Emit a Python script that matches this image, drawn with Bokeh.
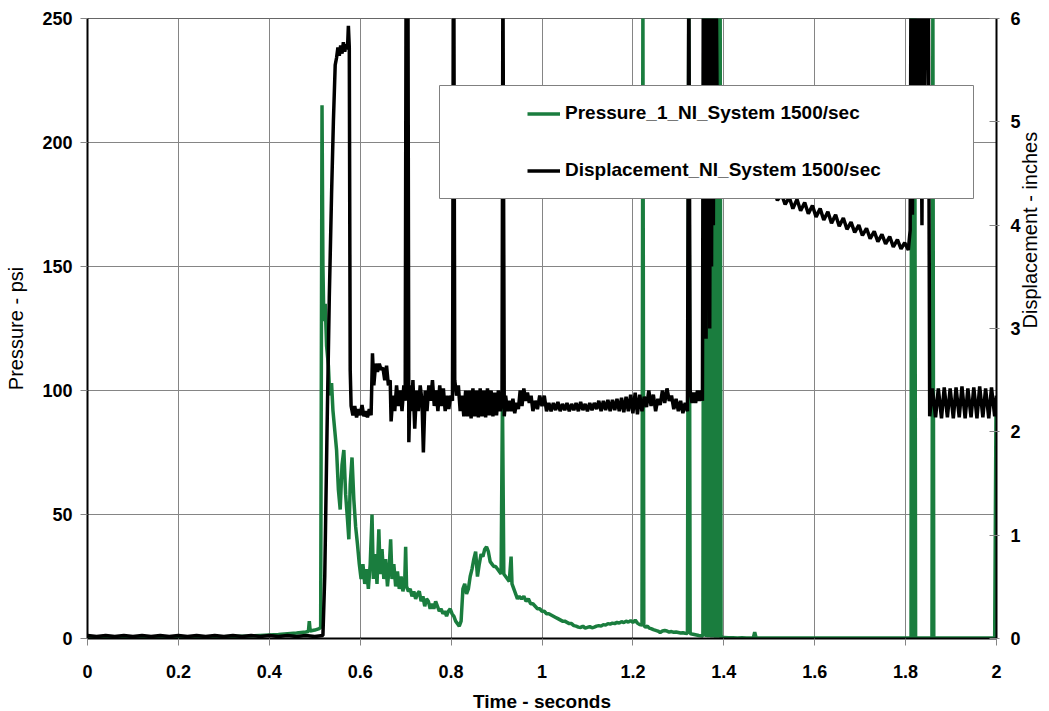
import math
from bokeh.plotting import figure
from bokeh.models import (Range1d, LinearAxis, FixedTicker, CustomJSTickFormatter,
                          Legend, LegendItem, BoxAnnotation)
from bokeh.embed import file_html
from bokeh.resources import INLINE

# ---------------- data ----------------
x_ticks = [0, 0.2, 0.4, 0.6, 0.8, 1.0, 1.2, 1.4, 1.6, 1.8, 2.0]
psi_ticks = [0, 50, 100, 150, 200, 250]
inch_ticks = [0, 1, 2, 3, 4, 5, 6]

pressure_label = "Pressure_1_NI_System 1500/sec"
disp_label = "Displacement_NI_System 1500/sec"

pressure_time = [
    0.00, 0.02, 0.04, 0.06, 0.08, 0.10, 0.12, 0.14, 0.16, 0.18,
    0.20, 0.22, 0.24, 0.26, 0.28, 0.30, 0.32, 0.34, 0.36, 0.38,
    0.40, 0.42, 0.44, 0.46, 0.48, 0.486, 0.488, 0.490, 0.500, 0.510,
    0.513, 0.516, 0.518, 0.520, 0.523, 0.526, 0.530, 0.533, 0.537, 0.540,
    0.544, 0.548, 0.552, 0.556, 0.560, 0.564, 0.568, 0.572, 0.575, 0.578,
    0.582, 0.586, 0.590, 0.594, 0.598, 0.602, 0.606, 0.610, 0.614, 0.618,
    0.622, 0.626, 0.629, 0.633, 0.637, 0.641, 0.644, 0.648, 0.652, 0.656,
    0.660, 0.664, 0.667, 0.670, 0.674, 0.678, 0.682, 0.686, 0.690, 0.694,
    0.698, 0.700, 0.702, 0.706, 0.710, 0.714, 0.718, 0.722, 0.726, 0.730,
    0.734, 0.738, 0.742, 0.746, 0.750, 0.754, 0.758, 0.762, 0.766, 0.770,
    0.774, 0.778, 0.782, 0.786, 0.790, 0.794, 0.798, 0.802, 0.806, 0.810,
    0.814, 0.818, 0.822, 0.826, 0.830, 0.834, 0.838, 0.842, 0.846, 0.850,
    0.854, 0.858, 0.862, 0.866, 0.870, 0.874, 0.878, 0.882, 0.886, 0.890,
    0.894, 0.898, 0.902, 0.906, 0.910, 0.913, 0.916, 0.920, 0.924, 0.928,
    0.932, 0.934, 0.938, 0.942, 0.946, 0.950, 0.955, 0.960, 0.965, 0.970,
    0.975, 0.980, 0.985, 0.990, 0.995, 1.000, 1.005, 1.010, 1.015, 1.020,
    1.025, 1.030, 1.035, 1.040, 1.045, 1.050, 1.055, 1.060, 1.065, 1.070,
    1.075, 1.080, 1.085, 1.090, 1.095, 1.100, 1.105, 1.110, 1.115, 1.120,
    1.125, 1.130, 1.135, 1.140, 1.145, 1.150, 1.155, 1.160, 1.165, 1.170,
    1.175, 1.180, 1.185, 1.190, 1.195, 1.200, 1.205, 1.210, 1.215, 1.220,
    1.222, 1.224, 1.228, 1.232, 1.236, 1.240, 1.245, 1.250, 1.255, 1.260,
    1.265, 1.270, 1.275, 1.280, 1.285, 1.290, 1.295, 1.300, 1.305, 1.310,
    1.315, 1.320, 1.323, 1.326, 1.330, 1.335, 1.340, 1.345, 1.350, 1.354,
    1.356, 1.358, 1.360, 1.362, 1.364, 1.366, 1.368, 1.370, 1.372, 1.374,
    1.376, 1.378, 1.380, 1.382, 1.384, 1.386, 1.388, 1.390, 1.392, 1.394,
    1.400, 1.410, 1.420, 1.430, 1.440, 1.450, 1.465, 1.468, 1.471, 1.480,
    1.500, 1.600, 1.700, 1.812, 1.813, 1.815, 1.818, 1.820, 1.822, 1.858,
    1.860, 1.862, 1.950, 1.996, 1.999,
]
pressure_psi = [
    0.6, 0.5, 0.6, 0.5, 0.6, 0.5, 0.6, 0.5, 0.6, 0.5,
    0.6, 0.5, 0.6, 0.6, 0.7, 0.7, 0.8, 0.9, 1.0, 1.2,
    1.4, 1.6, 1.9, 2.2, 2.6, 2.8, 7.0, 3.0, 3.4, 4.0,
    4.5, 215, 150, 128, 135, 118, 110, 98, 103, 92,
    84, 76, 60, 52, 70, 76, 58, 48, 40, 62,
    73, 56, 45, 38, 30, 24, 30, 22, 28, 20,
    30, 50, 24, 34, 22, 44, 26, 36, 24, 32,
    21, 29, 40, 24, 30, 21, 27, 20, 25, 19,
    23, 37, 21, 19, 20, 17, 19, 16, 18, 19,
    15, 17, 13, 16, 15, 12, 14, 12, 15, 13,
    11, 12, 10, 11, 9, 11, 12, 10, 9, 7,
    6, 5, 7, 20, 22, 18, 20, 25, 28, 32,
    35, 25, 30, 34, 33, 36, 37, 35, 31, 30,
    29, 29, 28, 27, 26, 97, 26, 25, 24, 23,
    33, 22, 20, 18, 16, 17, 16, 17, 15, 16,
    14, 14, 13, 12, 12, 11, 11, 10, 10, 9.5,
    9, 8.5, 8, 7.5, 7, 7, 6.5, 6, 6, 5.2,
    5, 4.6, 4.4, 5, 4.2, 4.5, 4.8, 4.3, 4.6, 5,
    5.2, 5, 5.6, 5.4, 6, 5.8, 6.2, 6, 6.5, 6.2,
    6.8, 6.4, 7, 6.6, 7.2, 6.5, 7.4, 6.2, 5.6, 5.4,
    260, 5.2, 4.6, 5, 4.2, 4, 3.6, 3.3, 3, 2.4,
    3, 3.2, 3, 2.6, 2.8, 2.5, 2.6, 2.4, 2.2, 2.3,
    2.1, 2.0, 260, 2.0, 1.8, 1.6, 1.4, 1.2, 1.1, 1.0,
    260, 0.8, 260, 0.6, 260, 0.5, 260, 0.5, 260, 0.4,
    260, 0.4, 260, 0.3, 260, 0.3, 260, 0.3, 260, 0.3,
    0.4, 0.3, 0.3, 0.2, 0.3, 0.2, 0.3, 2.6, 0.3, 0.2,
    0.2, 0.2, 0.2, 0.2, 260, 0.2, 0.2, 260, 0.2, 0.2,
    260, 0.2, 0.2, 0.2, 96,
]

disp_time = [
    0.00, 0.02, 0.04, 0.06, 0.08, 0.10, 0.12, 0.14, 0.16, 0.18,
    0.20, 0.22, 0.24, 0.26, 0.28, 0.30, 0.32, 0.34, 0.36, 0.38,
    0.40, 0.42, 0.44, 0.46, 0.48, 0.50, 0.518, 0.522, 0.527, 0.532,
    0.537, 0.541, 0.545, 0.548, 0.551, 0.554, 0.557, 0.560, 0.563, 0.566,
    0.569, 0.572, 0.574, 0.576, 0.578, 0.580, 0.584, 0.588, 0.592, 0.596,
    0.600, 0.604, 0.608, 0.612, 0.616, 0.620, 0.624, 0.627, 0.630, 0.634,
    0.638, 0.642, 0.646, 0.650, 0.654, 0.658, 0.662, 0.666, 0.668, 0.672,
    0.676, 0.680, 0.684, 0.688, 0.692, 0.696, 0.699, 0.701, 0.703, 0.705,
    0.707, 0.710, 0.713, 0.716, 0.720, 0.724, 0.728, 0.732, 0.736, 0.739,
    0.743, 0.747, 0.751, 0.755, 0.759, 0.763, 0.767, 0.771, 0.775, 0.779,
    0.783, 0.787, 0.791, 0.795, 0.799, 0.803, 0.806, 0.808, 0.812, 0.816,
    0.820, 0.824, 0.828, 0.832, 0.836, 0.840, 0.844, 0.848, 0.852, 0.856,
    0.860, 0.864, 0.868, 0.872, 0.876, 0.880, 0.884, 0.888, 0.892, 0.896,
    0.900, 0.904, 0.908, 0.912, 0.914, 0.917, 0.920, 0.924, 0.928, 0.932,
    0.936, 0.940, 0.944, 0.948, 0.952, 0.956, 0.960, 0.964, 0.968, 0.972,
    0.976, 0.980, 0.985, 0.990, 0.995, 1.000, 1.005, 1.010, 1.015, 1.020,
    1.025, 1.030, 1.035, 1.040, 1.045, 1.050, 1.055, 1.060, 1.065, 1.070,
    1.075, 1.080, 1.085, 1.090, 1.095, 1.100, 1.105, 1.110, 1.115, 1.120,
    1.125, 1.130, 1.135, 1.140, 1.145, 1.150, 1.155, 1.160, 1.165, 1.170,
    1.175, 1.180, 1.185, 1.190, 1.195, 1.200, 1.205, 1.210, 1.215, 1.220,
    1.225, 1.230, 1.235, 1.240, 1.245, 1.250, 1.255, 1.260, 1.265, 1.270,
    1.275, 1.280, 1.285, 1.290, 1.295, 1.300, 1.305, 1.310, 1.315, 1.320,
    1.323, 1.326, 1.330, 1.334, 1.338, 1.342, 1.346, 1.350, 1.353, 1.355,
    1.357, 1.359, 1.361, 1.363, 1.365, 1.367, 1.369, 1.371, 1.373, 1.375,
    1.377, 1.379, 1.381, 1.383, 1.386, 1.390, 1.420, 1.450, 1.480, 1.500,
    1.510, 1.518, 1.527, 1.535, 1.544, 1.552, 1.561, 1.569, 1.578, 1.586,
    1.595, 1.603, 1.612, 1.620, 1.629, 1.637, 1.646, 1.654, 1.663, 1.671,
    1.680, 1.688, 1.697, 1.705, 1.714, 1.722, 1.731, 1.739, 1.748, 1.756,
    1.765, 1.773, 1.782, 1.790, 1.798, 1.806, 1.810, 1.812, 1.815, 1.818,
    1.821, 1.824, 1.828, 1.832, 1.836, 1.838, 1.842, 1.846, 1.850, 1.853,
    1.859, 1.866, 1.872, 1.879, 1.885, 1.892, 1.898, 1.905, 1.911, 1.918,
    1.924, 1.931, 1.937, 1.944, 1.950, 1.957, 1.963, 1.970, 1.976, 1.983,
    1.989, 1.996, 2.000,
]
disp_in = [
    0.03, 0.02, 0.03, 0.02, 0.03, 0.02, 0.03, 0.02, 0.03, 0.02,
    0.03, 0.02, 0.03, 0.02, 0.03, 0.02, 0.03, 0.02, 0.03, 0.02,
    0.03, 0.02, 0.03, 0.02, 0.03, 0.02, 0.03, 0.6, 2.0, 3.3,
    4.3, 5.0, 5.55, 5.62, 5.72, 5.64, 5.74, 5.66, 5.77, 5.68,
    5.75, 5.70, 5.93, 5.72, 2.6, 2.25, 2.16, 2.25, 2.14, 2.22,
    2.16, 2.26, 2.15, 2.20, 2.14, 2.22, 2.16, 2.76, 2.45, 2.66,
    2.58, 2.66, 2.60, 2.62, 2.50, 2.64, 2.45, 2.50, 2.10, 2.35,
    2.20, 2.45, 2.25, 2.40, 2.20, 2.45, 2.30, 6.5, 2.3, 6.5,
    1.90, 2.45, 2.20, 2.50, 2.03, 2.40, 2.20, 2.45, 2.30, 1.80,
    2.40, 2.20, 2.45, 2.30, 2.50, 2.25, 2.40, 2.20, 2.45, 2.25,
    2.42, 2.20, 2.35, 2.22, 2.35, 2.30, 6.5, 2.50, 2.35, 2.45,
    2.20, 2.35, 2.15, 2.40, 2.15, 2.40, 2.13, 2.42, 2.15, 2.40,
    2.14, 2.42, 2.15, 2.40, 2.14, 2.42, 2.16, 2.40, 2.15, 2.38,
    2.16, 2.40, 2.20, 2.30, 6.5, 2.15, 2.35, 2.20, 2.30, 2.20,
    2.32, 2.18, 2.28, 2.22, 2.40, 2.25, 2.42, 2.30, 2.38, 2.28,
    2.35, 2.20, 2.30, 2.22, 2.35, 2.25, 2.35, 2.20, 2.28, 2.20,
    2.28, 2.21, 2.29, 2.20, 2.27, 2.21, 2.28, 2.20, 2.27, 2.21,
    2.28, 2.20, 2.29, 2.21, 2.27, 2.20, 2.28, 2.21, 2.28, 2.22,
    2.30, 2.20, 2.30, 2.21, 2.31, 2.20, 2.31, 2.21, 2.32, 2.20,
    2.33, 2.19, 2.34, 2.20, 2.36, 2.18, 2.38, 2.17, 2.36, 2.20,
    2.34, 2.24, 2.40, 2.25, 2.36, 2.20, 2.32, 2.26, 2.40, 2.28,
    2.42, 2.30, 2.35, 2.22, 2.32, 2.20, 2.30, 2.18, 2.28, 2.20,
    6.5, 2.40, 2.28, 2.38, 2.28, 2.40, 2.30, 2.40, 2.30, 6.5,
    3.1, 6.5, 2.9, 6.5, 3.4, 6.5, 3.0, 6.5, 3.6, 6.5,
    4.0, 6.5, 4.5, 6.5, 4.75, 4.72, 4.62, 4.55, 4.45, 4.38,
    4.34, 4.24, 4.30, 4.20, 4.27, 4.16, 4.25, 4.14, 4.22, 4.11,
    4.19, 4.08, 4.16, 4.05, 4.13, 4.02, 4.10, 3.99, 4.07, 3.96,
    4.03, 3.93, 4.00, 3.90, 3.97, 3.87, 3.94, 3.84, 3.91, 3.82,
    3.89, 3.79, 3.86, 3.77, 3.83, 3.76, 3.95, 6.5, 4.1, 6.5,
    4.3, 6.5, 5.0, 6.5, 4.0, 6.5, 5.2, 6.5, 6.5, 2.15,
    2.42, 2.14, 2.42, 2.13, 2.43, 2.14, 2.42, 2.13, 2.43, 2.14,
    2.44, 2.13, 2.42, 2.14, 2.43, 2.13, 2.44, 2.14, 2.42, 2.13,
    2.43, 2.15, 2.35,
]

# ---------------- styling constants ----------------
FONT = "Liberation Sans"
GREEN = "#1a7d3e"
GRID = "#858585"
FRAME_L, FRAME_T = 87, 18
FRAME_W, FRAME_H = 909, 620

p = figure(frame_width=FRAME_W, frame_height=FRAME_H,
           x_range=Range1d(0, 2), y_range=Range1d(0, 250),
           output_backend="svg", toolbar_location=None,
           min_border_left=FRAME_L, min_border_top=FRAME_T,
           min_border_right=52, min_border_bottom=73,
           background_fill_color="white", border_fill_color="white",
           outline_line_color="#666666", outline_line_width=1)
p.extra_y_ranges = {"disp": Range1d(0, 6)}

xt = FixedTicker(ticks=x_ticks)
yt = FixedTicker(ticks=psi_ticks)
p.xaxis.ticker = xt
p.xgrid.ticker = xt
p.yaxis.ticker = yt
p.ygrid.ticker = yt
p.xaxis.formatter = CustomJSTickFormatter(code="return (Math.round(tick*10)/10).toString();")

for g in (p.xgrid, p.ygrid):
    g.grid_line_color = GRID
    g.grid_line_width = 1

def style_axis(ax, tick_in, tick_out, standoff, label_standoff, label_bold, label_size):
    ax.axis_line_color = "black"
    ax.axis_line_width = 2
    ax.major_tick_line_color = GRID
    ax.major_tick_line_width = 1
    ax.major_tick_in = tick_in
    ax.major_tick_out = tick_out
    ax.minor_tick_line_color = None
    ax.major_label_text_font = FONT
    ax.major_label_text_font_style = "bold"
    ax.major_label_text_font_size = "18px"
    ax.major_label_text_color = "black"
    ax.major_label_standoff = standoff
    ax.axis_label_text_font = FONT
    ax.axis_label_text_font_size = label_size
    ax.axis_label_text_font_style = "bold" if label_bold else "normal"
    ax.axis_label_text_color = "black"
    ax.axis_label_standoff = label_standoff

xa = p.xaxis[0]
xa.axis_label = "Time - seconds"
style_axis(xa, 0, 7, 19, 10, True, "19px")

ya = p.yaxis[0]
ya.axis_label = "Pressure - psi"
style_axis(ya, 0, 7, 8, 12, False, "20px")

ra = LinearAxis(y_range_name="disp", ticker=FixedTicker(ticks=inch_ticks),
                axis_label="Displacement - inches")
style_axis(ra, 7, 3, 11, 6, False, "20px")
ra.axis_label_orientation = math.pi / 2
p.add_layout(ra, "right")

g_line = p.line(pressure_time, pressure_psi, line_color=GREEN, line_width=3.5)
b_line = p.line(disp_time, disp_in, line_color="black", line_width=3.5,
                y_range_name="disp")

# legend box (pixel placement converted to data units of the primary axes)
LEG_L, LEG_R = 439 - FRAME_L, 973 - FRAME_L
LEG_T, LEG_B = FRAME_T + FRAME_H - 85, FRAME_T + FRAME_H - 198
box = BoxAnnotation(left=LEG_L / FRAME_W * 2, right=LEG_R / FRAME_W * 2,
                    bottom=LEG_B / FRAME_H * 250, top=LEG_T / FRAME_H * 250,
                    fill_color="white", fill_alpha=1.0,
                    line_color="#808080", line_width=1, line_alpha=1.0)
p.add_layout(box)

legend = Legend(items=[LegendItem(label=pressure_label, renderers=[g_line]),
                       LegendItem(label=disp_label, renderers=[b_line])],
                location=(527 - FRAME_L, FRAME_T + FRAME_H - 181), orientation="vertical",
                padding=0, spacing=35, margin=0,
                glyph_width=33, glyph_height=21, label_height=21,
                label_standoff=5,
                label_text_font=FONT, label_text_font_style="bold",
                label_text_font_size="19px", label_text_color="black",
                border_line_alpha=0, background_fill_alpha=0)
p.add_layout(legend, "center")

open("out.html", "w").write(file_html(p, INLINE))
